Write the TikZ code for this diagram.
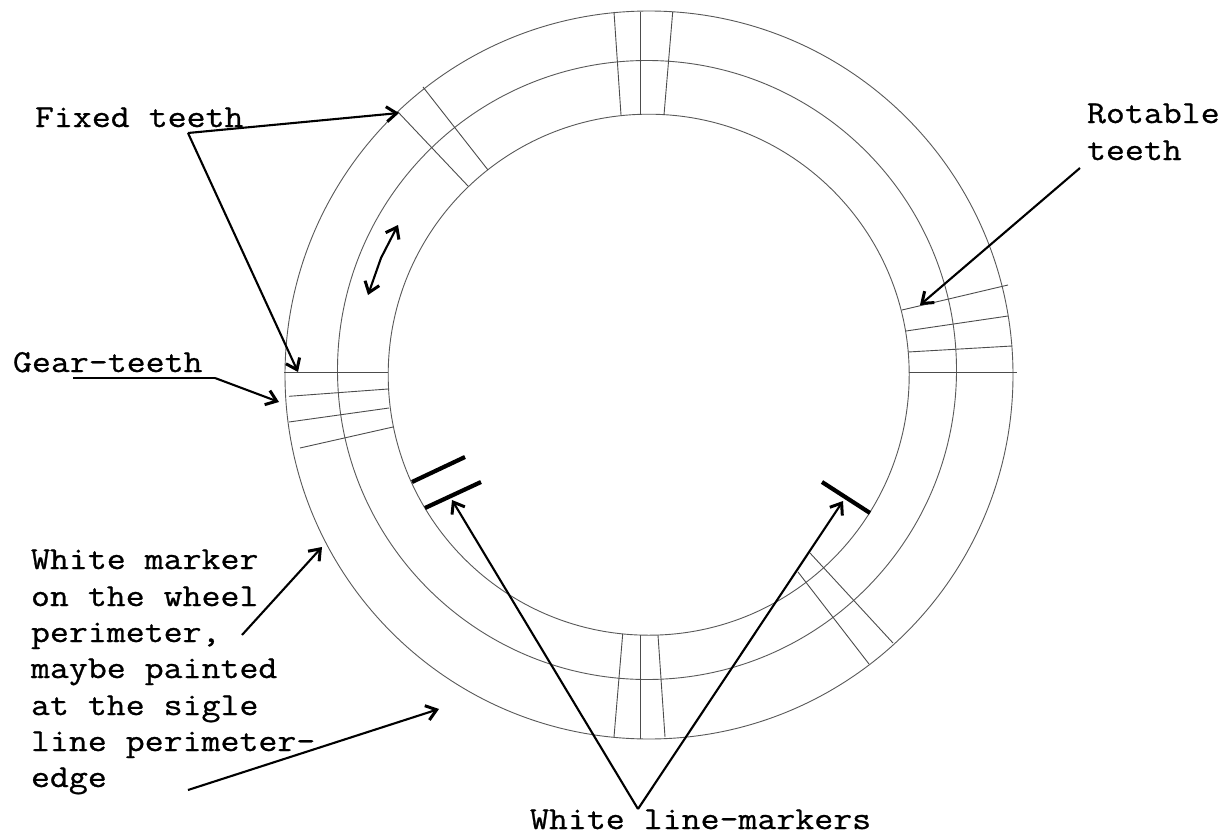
\documentclass[tikz,border=0pt]{standalone}
\usepackage{fontspec}
\setmonofont[FakeStretch=1.15,FakeBold=0.8]{Latin Modern Mono}
\usetikzlibrary{arrows.meta}
\tikzset{
  wheel/.style={draw=black!65,line width=0.9pt},
  tooth/.style={draw=black!70,line width=0.9pt},
  marker/.style={draw=black,line width=4.2pt},
  pointer/.style={draw=black,line width=2.1pt,-{Straight Barb[length=10pt,width=15pt,line width=3pt]}},
  pointerb/.style={draw=black,line width=2.1pt,{Straight Barb[length=10pt,width=15pt,line width=3pt]}-{Straight Barb[length=10pt,width=15pt,line width=3pt]}},
  plain/.style={draw=black,line width=2.1pt},
  lab/.style={font=\ttfamily\fontsize{32pt}{36pt}\selectfont,anchor=base west,inner sep=0pt,outer sep=0pt}
}
\begin{document}
\begin{tikzpicture}[x=1pt,y=-1pt]
\useasboundingbox (0,0) rectangle (1232,835);
\fill[white] (0,0) rectangle (1232,835);
% wheel
\draw[wheel] (649,375) circle[radius=364];
\draw[wheel] (647,370) circle[radius=309.5];
\draw[wheel] (648.7,374.7) circle[radius=260.5];
% top teeth
\foreach \a/\b in {614/621,640.6/640.6,672.7/664}{\draw[tooth] (\a,12) -- (\b,115);}
% bottom teeth
\draw[tooth] (622.7,634) -- (614,737);
\draw[tooth] (640.6,635) -- (640.6,739);
\draw[tooth] (658,635) -- (665,737);
% left teeth
\draw[tooth] (284,372) -- (388,372);
\draw[tooth] (289,396.3) -- (388,389);
\draw[tooth] (289,422) -- (389,408);
\draw[tooth] (300,448) -- (393,427);
% right teeth
\draw[tooth] (909,372) -- (1017,372);
\draw[tooth] (908,352) -- (1012,346);
\draw[tooth] (906,331) -- (1008,316);
\draw[tooth] (902,310) -- (1008,285);
% top-left teeth
\draw[tooth] (398,112) -- (468,186);
\draw[tooth] (423,87) -- (488,170);
% bottom-right teeth
\draw[tooth] (810,553) -- (893,643);
\draw[tooth] (798,572) -- (869,664);
% white markers
\draw[marker] (412,482) -- (465,457);
\draw[marker] (425,508) -- (481,482);
\draw[marker] (822,482) -- (870,513);
% labels
\node[lab] (fixed) at (35,127) {Fixed teeth};
\node[lab] (rot1) at (1087,123) {Rotable};
\node[lab] (rot2) at (1087,160) {teeth};
\node[lab] (gear) at (13,372) {Gear-teeth};
\node[lab] (wm1) at (31,569) {White marker};
\node[lab] (wm2) at (31,606) {on the wheel};
\node[lab] (wm3) at (31,642) {perimeter,};
\node[lab] (wm4) at (31,678) {maybe painted};
\node[lab] (wm5) at (31,715) {at the sigle};
\node[lab] (wm6) at (31,751) {line perimeter-};
\node[lab] (wm7) at (31,787) {edge};
\node[lab] (lm) at (530,829) {White line-markers};
% pointers
\coordinate (f0) at (188,133);
\coordinate (f1) at (399,113);
\coordinate (f2) at (298,372);
\draw[pointer] (f0) -- (f1);
\draw[pointer] (f0) -- (f2);
\coordinate (g0) at (73,378);
\coordinate (g1) at (215,378);
\coordinate (g2) at (279,402);
\draw[plain] (g0) -- (g1);
\draw[pointer] (g1) -- (g2);
\coordinate (r0) at (1080,168);
\coordinate (r1) at (920,305);
\draw[pointer] (r0) -- (r1);
\coordinate (w0) at (242,635);
\coordinate (w1) at (322,547);
\draw[pointer] (w0) -- (w1);
\coordinate (e0) at (188,790);
\coordinate (e1) at (439,709);
\draw[pointer] (e0) -- (e1);
\coordinate (m0) at (638,809);
\coordinate (m1) at (452,500);
\coordinate (m2) at (843,501);
\draw[pointer] (m0) -- (m1);
\draw[pointer] (m0) -- (m2);
\coordinate (d0) at (398,225);
\coordinate (db) at (381,258);
\coordinate (d1) at (368,295);
\draw[pointerb] (d0) -- (db) -- (d1);
\end{tikzpicture}
\end{document}
